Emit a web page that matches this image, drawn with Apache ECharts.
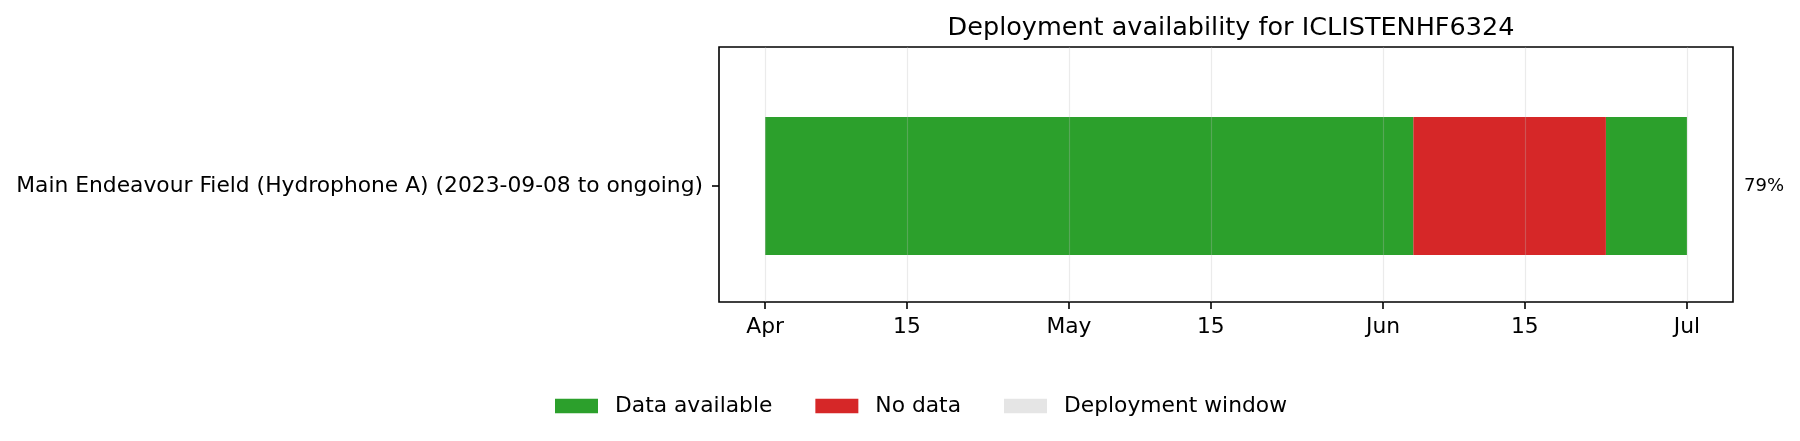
<!DOCTYPE html>
<html>
<head>
<meta charset="utf-8">
<script src="https://cdn.jsdelivr.net/npm/echarts@6/dist/echarts.min.js"></script>
<style>
  html, body { margin: 0; padding: 0; background: #fff; }
  #chart { width: 1800px; height: 441px; }
</style>
</head>
<body>
<div id="chart"></div>
<script>
// deployment row
var categories = ['Main Endeavour Field (Hydrophone A) (2023-09-08 to ongoing)'];
var windowStart = ['2025-04-01'];
var windowEnd = ['2025-07-01'];

// availability segments inside the window
var segStart = ['2025-04-01', '2025-06-04', '2025-06-23'];
var segEnd = ['2025-06-04', '2025-06-23', '2025-07-01'];
var segStatus = ['Data available', 'No data', 'Data available'];

var availabilityPct = [79];

var tickDates = ['2025-04-01', '2025-04-15', '2025-05-01', '2025-05-15', '2025-06-01', '2025-06-15', '2025-07-01'];
var tickLabels = ['Apr', '15', 'May', '15', 'Jun', '15', 'Jul'];

var colors = { 'Data available': '#2ca02c', 'No data': '#d62728', 'Deployment window': '#e5e5e5' };

function ts(d) { return new Date(d + 'T00:00:00Z').getTime(); }

var span = ts(windowEnd[0]) - ts(windowStart[0]);
var xMin = ts(windowStart[0]) - span * 0.05;
var xMax = ts(windowEnd[0]) + span * 0.05;
var tickTs = tickDates.map(ts);

var barHalf = 0.4;
var FONT = 'DejaVu Sans';
var fs = 21.8;

function barRender(params, api) {
    var s = api.coord([api.value(0), api.value(2) + barHalf]);
    var e = api.coord([api.value(1), api.value(2) - barHalf]);
    return {
        type: 'rect',
        shape: { x: s[0], y: s[1], width: e[0] - s[0], height: e[1] - s[1] },
        style: { fill: api.visual('color') }
    };
}

function segData(status) {
    var out = [];
    for (var i = 0; i < segStart.length; i++) {
        if (segStatus[i] === status) out.push([ts(segStart[i]), ts(segEnd[i]), 0]);
    }
    return out;
}

var chart = echarts.init(document.getElementById('chart'), null, { renderer: 'canvas' });

chart.setOption({
    animation: false,
    textStyle: { fontFamily: FONT, color: '#000' },
    title: {
        text: 'Deployment availability for ' + 'ICLISTENHF6324',
        left: 1226,
        textAlign: 'center',
        top: 10,
        textStyle: { fontFamily: FONT, fontSize: 25.5, fontWeight: 'normal', color: '#000' }
    },
    grid: {
        left: 719, right: 67, top: 47, bottom: 139,
        show: true, borderColor: '#000', borderWidth: 1.6, backgroundColor: 'transparent'
    },
    legend: {
        left: 555,
        top: 395,
        padding: 0,
        itemWidth: 43,
        itemHeight: 14.5,
        itemGap: 43,
        icon: 'rect',
        textStyle: { fontFamily: FONT, fontSize: fs, color: '#000', padding: [0, 0, 0, 12] },
        data: ['Data available', 'No data', 'Deployment window']
    },
    xAxis: {
        type: 'value',
        min: xMin,
        max: xMax,
        z: 3,
        axisLine: { show: false, onZero: false },
        axisTick: {
            show: true, length: 7, customValues: tickTs,
            lineStyle: { color: '#000', width: 1.6 }
        },
        axisLabel: {
            customValues: tickTs,
            margin: 14,
            fontFamily: FONT, fontSize: fs, color: '#000',
            formatter: function (v) {
                var i = tickTs.indexOf(v);
                return i >= 0 ? tickLabels[i] : '';
            }
        },
        splitLine: { show: true, lineStyle: { color: 'rgba(190,190,190,0.3)', width: 1.2 } }
    },
    yAxis: {
        type: 'value',
        min: -0.672,
        max: 0.806,
        axisLine: { show: false, onZero: false },
        axisTick: {
            show: true, length: 7, customValues: [0],
            lineStyle: { color: '#000', width: 1.6 }
        },
        axisLabel: {
            customValues: [0],
            margin: 16,
            fontFamily: FONT, fontSize: fs, color: '#000',
            formatter: function (v) { return v === 0 ? categories[0] : ''; }
        },
        splitLine: { show: false }
    },
    series: [
        {
            name: 'Deployment window',
            type: 'custom',
            color: colors['Deployment window'],
            renderItem: barRender,
            encode: { x: [0, 1], y: 2 },
            data: [[ts(windowStart[0]), ts(windowEnd[0]), 0]]
        },
        {
            name: 'Data available',
            type: 'custom',
            color: colors['Data available'],
            renderItem: barRender,
            encode: { x: [0, 1], y: 2 },
            data: segData('Data available')
        },
        {
            name: 'No data',
            type: 'custom',
            color: colors['No data'],
            renderItem: barRender,
            encode: { x: [0, 1], y: 2 },
            data: segData('No data')
        },
        {
            name: 'pct',
            type: 'custom',
            silent: true,
            renderItem: function (params, api) {
                var cs = params.coordSys;
                var p = api.coord([xMax, api.value(0)]);
                return {
                    type: 'text',
                    style: {
                        x: cs.x + cs.width + 11,
                        y: p[1],
                        text: availabilityPct[params.dataIndex] + '%',
                        fill: '#000',
                        font: '18px "DejaVu Sans"',
                        verticalAlign: 'middle',
                        align: 'left'
                    }
                };
            },
            encode: { y: 0 },
            data: [[0]]
        }
    ]
});
</script>
</body>
</html>
